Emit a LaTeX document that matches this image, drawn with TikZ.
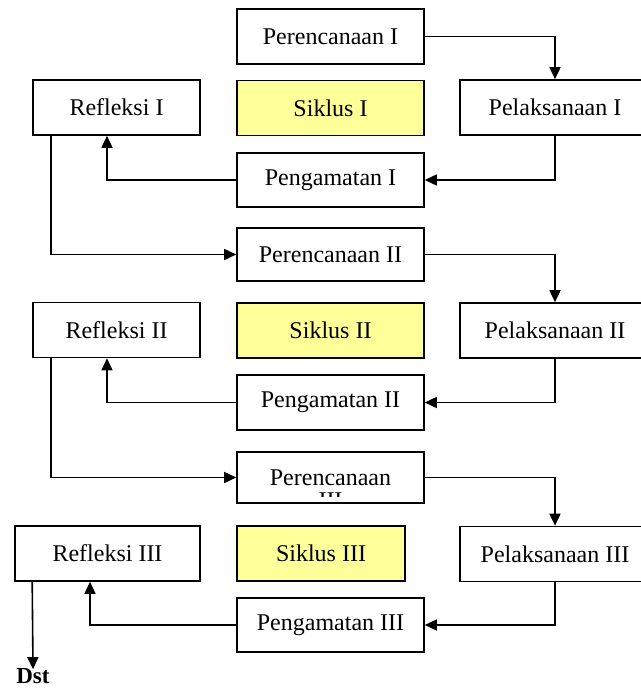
\documentclass[tikz,border=0pt]{standalone}
\usepackage{fontspec}
\setmainfont{Liberation Serif}
\usepackage{tikz}
\usetikzlibrary{arrows.meta, positioning, calc}
\definecolor{siklusyellow}{HTML}{FFFF99}

\begin{document}
\begin{tikzpicture}[x=1pt, y=-1pt,
  box/.style={draw, line width=1.6pt, minimum width=187pt, minimum height=55pt, inner sep=0pt, font=\fontsize{24}{28}\selectfont},
  refbox/.style={box, minimum width=167pt},
  pelbox/.style={box, minimum width=190pt},
  siklus/.style={box, fill=siklusyellow},
  arr/.style={line width=1.6pt, -{Triangle[length=12pt, width=11pt]}}]
\useasboundingbox (0,0) rectangle (640,688);

% Siklus I
\node[box] (per1) at (330.5,36.5) {Perencanaan I};
\node[refbox] (ref1) at (116.5,107.5) {Refleksi I};
\node[siklus] (sik1) at (330.5,108) {Siklus I};
\node[pelbox] (pel1) at (555,107.5) {Pelaksanaan I};
\node[box, minimum height=54pt] (pg1) at (330.5,180) {Pengamatan I};

% Siklus II
\node[box, minimum height=53pt] (per2) at (330.5,254.5) {Perencanaan II};
\node[refbox] (ref2) at (116.5,330) {Refleksi II};
\node[siklus] (sik2) at (330.5,330.5) {Siklus II};
\node[pelbox] (pel2) at (555,330.5) {Pelaksanaan II};
\node[box] (pg2) at (330.5,402.5) {Pengamatan II};

% Siklus III
\node[box, minimum height=51pt] (per3) at (330.5,477.5) {Perencanaan};
\begin{scope}
  \clip (240,455) rectangle (421,496);
  \node[inner sep=0pt, anchor=north, font=\fontsize{24}{28}\selectfont] (per3b) at (330.5,493) {III};
\end{scope}
\node[refbox, minimum width=185pt] (ref3) at (107.5,553.5) {Refleksi III};
\node[siklus, minimum width=168pt] (sik3) at (321,553.5) {Siklus III};
\node[pelbox] (pel3) at (555,554) {Pelaksanaan III};
\node[box, minimum height=54pt] (pg3) at (330.5,625) {Pengamatan III};
\node[font=\fontsize{23}{28}\selectfont\bfseries, inner sep=3pt] (dst) at (33,676) {Dst};

% Alur
\draw[arr] (per1.east) -| (pel1.north);
\draw[arr] (pel1.south) |- (pg1.east);
\draw[arr] (pg1.west) -| ([xshift=-9.5pt]ref1.south);
\draw[arr] ([xshift=19pt]ref1.south west) |- (per2.west);

\draw[arr] (per2.east) -| (pel2.north);
\draw[arr] (pel2.south) |- (pg2.east);
\draw[arr] (pg2.west) -| ([xshift=-9.5pt]ref2.south);
\draw[arr] ([xshift=19pt]ref2.south west) |- (per3.west);

\draw[arr] (per3.east) -| (pel3.north);
\draw[arr] (pel3.south) |- (pg3.east);
\draw[arr] (pg3.west) -| ([xshift=-17.5pt]ref3.south);
\draw[arr] ([xshift=18pt]ref3.south west) -- ([yshift=-4pt]dst.north);
\end{tikzpicture}
\end{document}
